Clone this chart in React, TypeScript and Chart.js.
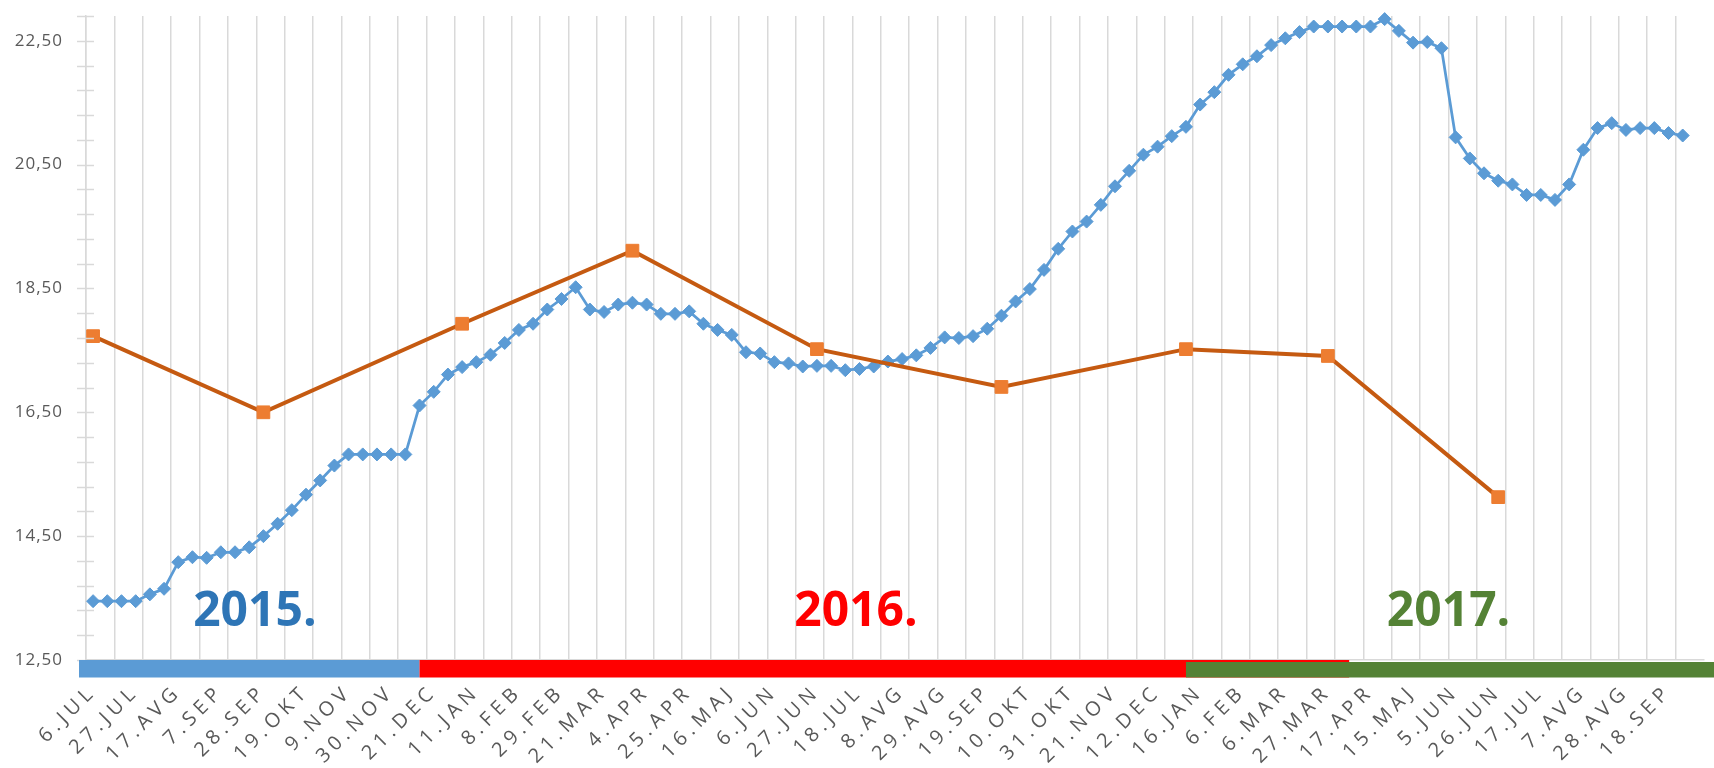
import React, { useEffect, useRef } from 'react';
import { Chart, registerables } from 'chart.js';

Chart.register(...registerables);

// Weekly categories (every third one is labelled on the axis)
const weekLabels: string[] = [
  '6.JUL', '13.JUL', '20.JUL', '27.JUL', '3.AVG', '10.AVG', '17.AVG', '24.AVG', '31.AVG', '7.SEP',
  '14.SEP', '21.SEP', '28.SEP', '5.OKT', '12.OKT', '19.OKT', '26.OKT', '2.NOV', '9.NOV', '16.NOV',
  '23.NOV', '30.NOV', '7.DEC', '14.DEC', '21.DEC', '28.DEC', '4.JAN', '11.JAN', '18.JAN', '1.FEB',
  '8.FEB', '15.FEB', '22.FEB', '29.FEB', '7.MAR', '14.MAR', '21.MAR', '28.MAR', '1.APR', '4.APR',
  '11.APR', '18.APR', '25.APR', '2.MAJ', '9.MAJ', '16.MAJ', '23.MAJ', '30.MAJ', '6.JUN', '13.JUN',
  '20.JUN', '27.JUN', '4.JUL', '11.JUL', '18.JUL', '25.JUL', '1.AVG', '8.AVG', '15.AVG', '22.AVG',
  '29.AVG', '5.SEP', '12.SEP', '19.SEP', '26.SEP', '3.OKT', '10.OKT', '17.OKT', '24.OKT', '31.OKT',
  '7.NOV', '14.NOV', '21.NOV', '28.NOV', '5.DEC', '12.DEC', '19.DEC', '9.JAN', '16.JAN', '23.JAN',
  '30.JAN', '6.FEB', '13.FEB', '27.FEB', '6.MAR', '13.MAR', '20.MAR', '27.MAR', '3.APR', '10.APR',
  '17.APR', '24.APR', '8.MAJ', '15.MAJ', '22.MAJ', '29.MAJ', '5.JUN', '12.JUN', '19.JUN', '26.JUN',
  '3.JUL', '10.JUL', '17.JUL', '24.JUL', '31.JUL', '7.AVG', '14.AVG', '21.AVG', '28.AVG', '4.SEP',
  '11.SEP', '18.SEP', '25.SEP', '2.OKT',
];

// Weekly series (blue diamonds)
const weeklyValues: (number | null)[] = [
  13.45, 13.45, 13.45, 13.45, 13.56, 13.65, 14.08, 14.16, 14.15, 14.24,
  14.24, 14.32, 14.50, 14.70, 14.92, 15.17, 15.40, 15.64, 15.82, 15.82,
  15.82, 15.82, 15.82, 16.61, 16.83, 17.11, 17.23, 17.31, 17.43, 17.62,
  17.83, 17.93, 18.16, 18.33, 18.52, 18.16, 18.12, 18.24, 18.27, 18.24,
  18.09, 18.09, 18.13, 17.93, 17.83, 17.75, 17.47, 17.45, 17.31, 17.29,
  17.24, 17.25, 17.25, 17.18, 17.20, 17.24, 17.32, 17.36, 17.42, 17.54,
  17.71, 17.70, 17.73, 17.85, 18.06, 18.29, 18.49, 18.80, 19.14, 19.42,
  19.58, 19.85, 20.15, 20.40, 20.66, 20.79, 20.96, 21.11, 21.47, 21.67,
  21.95, 22.12, 22.25, 22.43, 22.54, 22.64, 22.73, 22.73, 22.73, 22.73,
  22.73, 22.85, 22.66, 22.47, 22.48, 22.38, 20.94, 20.60, 20.36, 20.24,
  20.18, 20.01, 20.01, 19.93, 20.18, 20.74, 21.09, 21.17, 21.06, 21.09,
  21.09, 21.01, 20.97, null,
];

// Quarterly series (orange squares)
const quarterDates: string[] = ['6.JUL', '28.SEP', '4.JAN', '1.APR', '27.JUN', '26.SEP', '9.JAN', '27.MAR', '26.JUN'];
const quarterValues: number[] = [17.73, 16.50, 17.93, 19.11, 17.52, 16.91, 17.52, 17.41, 15.13];

// Y axis
const yMin = 12.5;
const yMax = 22.9;
const yStep = 0.4;

// Year captions and the coloured year band under the axis
const yearTexts: string[] = ['2015.', '2016.', '2017.'];
const yearTextColors: string[] = ['#2E75B6', '#FF0000', '#548235'];
const bandColors: string[] = ['#5B9BD5', '#FF0000', '#548235'];

const decorPlugin = {
  id: 'decor',
  beforeDraw(chart: any) {
    const patch = (scale: any, spacing: string) => {
      if (!scale || scale.__patched) return;
      const orig = scale.drawLabels.bind(scale);
      scale.drawLabels = (area: any) => {
        const c = scale.ctx;
        c.save();
        try { (c as any).letterSpacing = spacing; } catch (e) { /* ignore */ }
        orig(area);
        c.restore();
      };
      scale.__patched = true;
    };
    patch(chart.scales.x, '5px');
    patch(chart.scales.y, '1px');
  },
  afterDatasetsDraw(chart: any) {
    const { ctx, scales } = chart;
    const x = scales.x;
    const y = scales.y;
    const centers = [11.4, 53.75, 95.5];
    const base = y.getPixelForValue(13.05);
    ctx.save();
    ctx.font = 'bold 48px "Open Sans"';
    ctx.textAlign = 'center';
    ctx.textBaseline = 'alphabetic';
    yearTexts.forEach((t, i) => {
      ctx.fillStyle = yearTextColors[i];
      ctx.fillText(t, x.getPixelForValue(centers[i]), base);
    });
    ctx.restore();
  },
  afterDraw(chart: any) {
    const { ctx, scales, chartArea } = chart;
    const x = scales.x;
    const y = scales.y;
    ctx.save();
    // crossing tick marks on the value axis
    ctx.strokeStyle = '#d9d9d9';
    ctx.lineWidth = 1.5;
    y.ticks.forEach((t: any) => {
      const py = Math.round(y.getPixelForValue(t.value)) + 0.5;
      ctx.beginPath();
      ctx.moveTo(chartArea.left - 9, py);
      ctx.lineTo(chartArea.left + 8, py);
      ctx.stroke();
    });
    // year band
    const top = chartArea.bottom;
    const h = 17.5;
    const x0 = chartArea.left - 7;
    const x1 = x.getPixelForValue(23);
    const x2 = x.getPixelForValue(88.5);
    const x3 = x.getPixelForValue(77);
    ctx.fillStyle = bandColors[0];
    ctx.fillRect(x0, top, x1 - x0, h);
    ctx.fillStyle = bandColors[1];
    ctx.fillRect(x1, top, x2 - x1, h);
    ctx.fillStyle = bandColors[2];
    ctx.fillRect(x3, top + 2, chart.width - x3, h - 2);
    ctx.restore();
  },
};

export default function App() {
  const canvasRef = useRef<HTMLCanvasElement | null>(null);

  useEffect(() => {
    document.body.style.margin = '0';
    const canvas = canvasRef.current;
    if (!canvas) return;
    const chart = new Chart(canvas, {
      type: 'line',
      data: {
        labels: weekLabels,
        datasets: [
          {
            label: 'Kvartal',
            data: quarterDates.map((d, i) => ({ x: d, y: quarterValues[i] })) as any,
            borderColor: '#C55A11',
            borderWidth: 4,
            pointStyle: 'rect',
            pointRadius: 9,
            pointBackgroundColor: '#ED7D31',
            pointBorderColor: '#ED7D31',
            pointBorderWidth: 1,
            tension: 0,
            order: 0,
            clip: false as any,
          },
          {
            label: 'Tedensko',
            data: weeklyValues,
            borderColor: '#5B9BD5',
            borderWidth: 2.75,
            pointStyle: 'rectRot',
            pointRadius: 6.5,
            pointBackgroundColor: '#5B9BD5',
            pointBorderColor: '#5B9BD5',
            pointBorderWidth: 1,
            tension: 0,
            order: 1,
            clip: false as any,
          },
        ],
      },
      options: {
        responsive: true,
        maintainAspectRatio: false,
        animation: false,
        layout: { padding: { top: 16, right: 3, left: 0, bottom: 0 } },
        plugins: {
          legend: { display: false },
          tooltip: { enabled: false },
        },
        scales: {
          x: {
            type: 'category',
            offset: true,
            grid: {
              offset: true,
              drawTicks: false,
              lineWidth: 1.5,
              color: (c: any) => (c.index % 2 === 0 ? '#d9d9d9' : 'rgba(0,0,0,0)'),
            },
            border: { display: true, color: '#d9d9d9', width: 1.5 },
            ticks: {
              autoSkip: false,
              minRotation: 45,
              maxRotation: 45,
              padding: 20,
              color: '#595959',
              font: { family: '"Open Sans"', size: 20 },
              callback: (_v: any, i: number) => (i % 3 === 0 ? weekLabels[i] : ''),
            },
            afterFit: (s: any) => {
              s.height = 108;
              s.paddingLeft = 0;
              s.paddingRight = 0;
            },
          },
          y: {
            type: 'linear',
            min: yMin,
            max: yMax,
            grid: { drawOnChartArea: false, drawTicks: false },
            border: { display: true, color: '#d9d9d9', width: 1.5 },
            ticks: {
              stepSize: yStep,
              maxTicksLimit: 100,
              padding: 23,
              color: '#595959',
              font: { family: '"Open Sans"', size: 17 },
              callback: (v: any, i: number) => (i % 5 === 0 ? Number(v).toFixed(2).replace('.', ',') : ''),
            },
            afterFit: (s: any) => {
              s.width = 86;
              s.paddingTop = 0;
              s.paddingBottom = 0;
            },
          },
        },
      },
      plugins: [decorPlugin],
    });
    return () => chart.destroy();
  }, []);

  return (
    <div style={{ position: 'fixed', left: 0, top: 0, width: 1714, height: 768, background: '#ffffff' }}>
      <canvas ref={canvasRef} />
    </div>
  );
}
